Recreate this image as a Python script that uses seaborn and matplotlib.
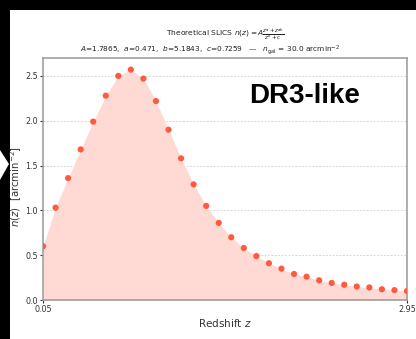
import numpy as np
import pandas as pd
import seaborn as sns
import matplotlib
matplotlib.use("Agg")
import matplotlib.pyplot as plt
from matplotlib.patches import Rectangle, Polygon

# Redshift bins (bin centres) and the n(z) values at each one
redshift = [0.05, 0.15, 0.25, 0.35, 0.45, 0.55, 0.65, 0.75, 0.85, 0.95,
            1.05, 1.15, 1.25, 1.35, 1.45, 1.55, 1.65, 1.75, 1.85, 1.95,
            2.05, 2.15, 2.25, 2.35, 2.45, 2.55, 2.65, 2.75, 2.85, 2.95]
nz = [0.60, 1.03, 1.36, 1.68, 1.99, 2.28, 2.50, 2.57, 2.47, 2.22,
      1.90, 1.58, 1.29, 1.05, 0.86, 0.70, 0.58, 0.49, 0.41, 0.35,
      0.29, 0.26, 0.22, 0.19, 0.17, 0.15, 0.14, 0.12, 0.11, 0.10]
xticks = [0.05, 2.95]
xtick_labels = ["0.05", "2.95"]
yticks = [0.0, 0.5, 1.0, 1.5, 2.0, 2.5]
ytick_labels = ["0.0", "0.5", "1.0", "1.5", "2.0", "2.5"]

df = pd.DataFrame({"z": redshift, "n": nz})

sns.set_theme(style="white")
plt.rcParams["font.family"] = ["DejaVu Sans Condensed", "Liberation Sans Narrow", "DejaVu Sans"]
plt.rcParams["mathtext.fontset"] = "dejavusans"

W, H = 416, 339
fig = plt.figure(figsize=(W / 100, H / 100), dpi=100, facecolor="black")

# white slide panel
fig.patches.append(Rectangle((10 / W, 0), 1 - 10 / W, 1 - 10 / H,
                             transform=fig.transFigure, facecolor="white",
                             edgecolor="none", zorder=-2))
# white arrow fragment at the left edge
fig.patches.append(Polygon([(0, 1 - 150 / H), (9 / W, 1 - 164 / H), (0, 1 - 180 / H)],
                           closed=True, transform=fig.transFigure,
                           facecolor="white", edgecolor="none", zorder=-2))

ax = fig.add_axes([43 / W, 39 / H, (407 - 43) / W, (300 - 58) / H])
ax.set_zorder(1)
ax.set_facecolor("white")

ax.fill_between(df["z"], 0, df["n"], color="#ffdad4", linewidth=0, zorder=1)
sns.scatterplot(data=df, x="z", y="n", ax=ax, color="#ff5a40", s=20,
                edgecolor="none", zorder=3, legend=False)

ax.set_xlim(0.05, 2.95)
ax.set_ylim(0, 2.7)
ax.set_xticks(xticks)
ax.set_xticklabels(xtick_labels)
ax.set_yticks(yticks)
ax.set_yticklabels(ytick_labels)
ax.tick_params(axis="both", labelsize=5.8, colors="#333333", length=2.5,
               width=0.8, pad=1.2, direction="out")
ax.tick_params(axis="both", bottom=True, left=True)

for y in yticks[1:]:
    ax.axhline(y, color="#d8d8d8", linestyle=(0, (2, 1.5)), linewidth=0.7, zorder=0)

for side in ["left", "right", "top", "bottom"]:
    ax.spines[side].set_visible(True)
    ax.spines[side].set_color("#999999")
    ax.spines[side].set_linewidth(1.1)

ax.set_xlabel("Redshift $z$", fontsize=7.5, color="#333333")
ax.set_ylabel("$n(z)$  [arcmin$^{-2}$]", fontsize=7.3, color="#333333")
ax.xaxis.set_label_coords(0.5, -17 / 242)
ax.yaxis.set_label_coords(-19 / 364, 0.47)

fig.text(225 / W, 1 - 35 / H,
         r"Theoretical SLICS $n(z) = A\frac{z^a+z^{ab}}{z^b+c}$",
         ha="center", va="center", fontsize=5.4, color="#222222")
fig.text(210 / W, 1 - 50 / H,
         r"$A$=1.7865,  $a$=0.471,  $b$=5.1843,  $c$=0.7259   —   $n_{\rm gal}$ = 30.0 arcmin$^{-2}$",
         ha="center", va="center", fontsize=5.3, color="#222222")

fig.text(305 / W, 1 - 96 / H, "DR3-like", ha="center", va="center",
         fontsize=20, fontweight="bold", color="black",
         family=["Liberation Sans", "DejaVu Sans"])

fig.savefig("out.png", dpi=100, facecolor=fig.get_facecolor())
